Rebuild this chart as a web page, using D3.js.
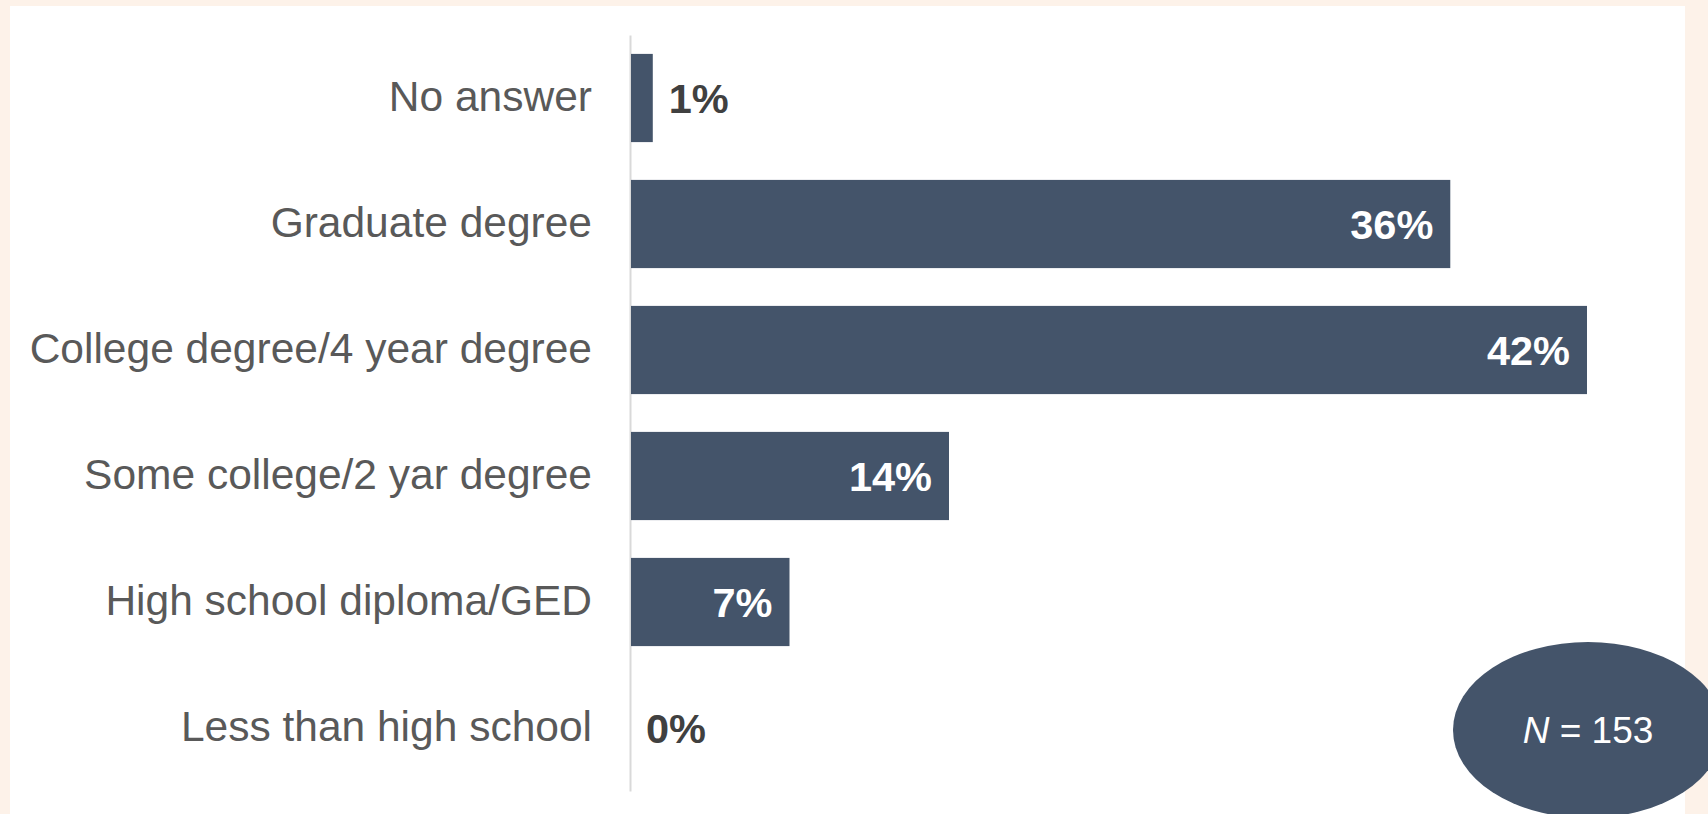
<!DOCTYPE html>
<html>
<head>
<meta charset="utf-8">
<script src="https://cdn.jsdelivr.net/npm/d3@7"></script>
<style>
  body { margin: 0; background: #fdf2e9; }
  svg { display: block; }
</style>
</head>
<body>
<svg id="chart"></svg>
<script>
var categories = ["No answer", "Graduate degree", "College degree/4 year degree",
  "Some college/2 yar degree", "High school diploma/GED", "Less than high school"];
var values = [1, 36, 42, 14, 7, 0];
var nLabel = "153";

var W = 1708, H = 814;
var barColor = "#44546a";
var font = "'Liberation Sans', Arial, sans-serif";

var svg = d3.select("#chart")
  .attr("width", W)
  .attr("height", H);

// cream frame + white panel
svg.append("rect")
  .attr("width", W)
  .attr("height", H)
  .attr("fill", "#fdf2e9");

svg.append("rect")
  .attr("x", 10)
  .attr("y", 6)
  .attr("width", 1675)
  .attr("height", H)
  .attr("fill", "#ffffff");

var x = d3.scaleLinear()
  .domain([0, 42])
  .range([630, 1587]);

var y = d3.scaleBand()
  .domain(categories)
  .range([35, 791])
  .paddingInner(0.3)
  .paddingOuter(0.15);

// category axis
var yAxis = svg.append("g")
  .attr("transform", "translate(" + x(0) + ",0)")
  .call(d3.axisLeft(y).tickSize(0).tickSizeOuter(0).tickPadding(38));

yAxis.select(".domain")
  .attr("stroke", "#d9d9d9")
  .attr("stroke-width", 2);

yAxis.selectAll("text")
  .attr("fill", "#595959")
  .attr("dy", "0.31em")
  .style("font-family", font)
  .style("font-size", "42.5px");

// bars
svg.selectAll(".bar")
  .data(values)
  .enter()
  .append("rect")
  .attr("class", "bar")
  .attr("x", x(0) + 1)
  .attr("y", function(d, i) { return y(categories[i]); })
  .attr("width", function(d) { return Math.max(0, x(d) - x(0) - 1); })
  .attr("height", y.bandwidth())
  .attr("fill", barColor);

// value labels
svg.selectAll(".val")
  .data(values)
  .enter()
  .append("text")
  .attr("class", "val")
  .text(function(d) { return d + "%"; })
  .attr("x", function(d) { return d >= 5 ? x(d) - 17 : x(d) + 16; })
  .attr("y", function(d, i) { return y(categories[i]) + y.bandwidth() / 2; })
  .attr("dy", "0.35em")
  .attr("text-anchor", function(d) { return d >= 5 ? "end" : "start"; })
  .attr("fill", function(d) { return d >= 5 ? "#ffffff" : "#404040"; })
  .style("font-family", font)
  .style("font-size", "41.5px")
  .style("font-weight", "bold");

// N badge
svg.append("ellipse")
  .attr("cx", 1588)
  .attr("cy", 730)
  .attr("rx", 135)
  .attr("ry", 88)
  .attr("fill", barColor);

var nText = svg.append("text")
  .attr("x", 1588)
  .attr("y", 743)
  .attr("text-anchor", "middle")
  .attr("fill", "#ffffff")
  .style("font-family", font)
  .style("font-size", "37px");

nText.append("tspan")
  .style("font-style", "italic")
  .text("N");
nText.append("tspan")
  .text(" = " + nLabel);
</script>
</body>
</html>
